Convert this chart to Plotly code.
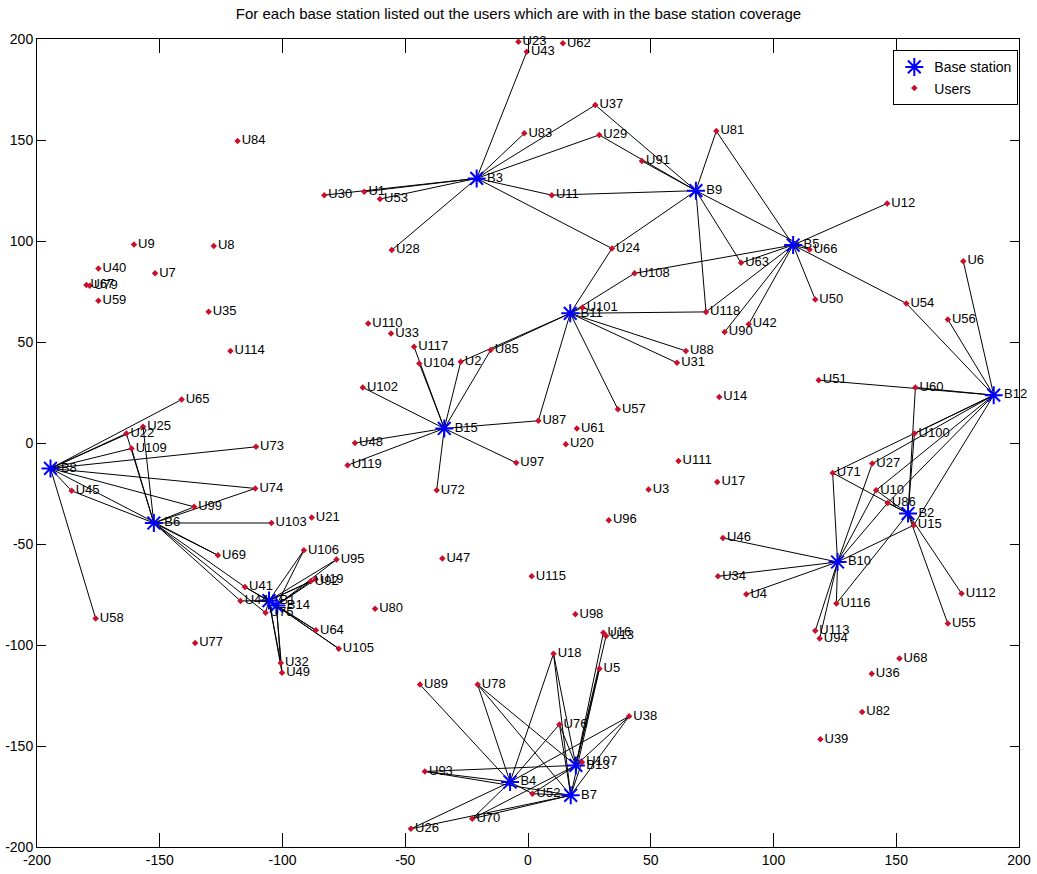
import plotly.graph_objects as go

# ---- Users ----
user_names = ["U%d" % i for i in range(1, 120)]
user_x = [-66.7, -27.4, 49.1, 88.9, 29.1, 177.3, -151.9, -128.0, -160.5, 141.8,
          9.7, 146.3, 31.8, 77.9, 157.1, 30.7, 77.1, 10.4, -86.5, 15.4,
          -88.1, -163.6, -3.9, 34.2, -156.8, -47.7, 140.2, -55.5, 29.0, -83.0,
          60.7, -100.7, -55.8, 77.4, -130.1, 140.0, 27.4, 41.2, 119.1, -175.0,
          -115.3, 89.9, -0.5, -117.1, -185.9, 79.4, -34.9, -70.5, -100.2, 117.0,
          118.4, 1.8, -60.3, 154.1, 171.0, 171.0, 36.6, -176.1, -175.0, 157.8,
          19.9, 14.2, 86.8, -86.4, -141.1, 114.7, -179.9, 151.3, -126.3, -22.7,
          124.1, -37.2, -110.8, -111.1, -106.9, 12.8, -135.6, -20.5, -178.5, -62.3,
          76.7, 136.1, -1.5, -118.3, -15.2, 146.5, 4.2, 64.3, -44.0, 80.1,
          46.4, -88.5, -42.0, 118.8, -78.0, 32.9, -4.8, 19.3, -136.0, 157.4,
          22.2, -67.3, -104.5, -44.3, -77.1, -91.3, 22.0, 43.4, -161.5, -65.1,
          61.3, 176.6, 117.0, -121.2, 1.5, 125.6, -46.4, 72.5, -73.5]
user_y = [124.4, 40.2, -23.0, -74.9, -111.7, 90.0, 84.0, 97.5, 98.3, -23.4,
          122.7, 118.6, -95.5, 22.8, -40.7, -93.9, -19.3, -104.3, -67.5, -0.6,
          -36.9, 4.7, 198.7, 96.3, 8.0, -191.0, -10.2, 95.5, 152.5, 122.7,
          39.7, -108.9, 54.2, -66.0, 65.0, -114.2, 167.3, -135.3, -146.7, 86.4,
          -71.3, 58.8, 193.7, -78.2, -23.7, -47.0, -57.2, 0.0, -113.7, 71.1,
          31.1, -173.6, 120.8, 69.1, -89.4, 61.2, 16.7, -86.9, 70.4, 27.5,
          7.2, 197.9, 89.2, -92.7, 21.5, 95.8, 78.2, -106.7, -55.6, -186.0,
          -14.8, -23.4, -1.9, -22.5, -84.0, -139.3, -99.0, -119.6, 77.8, -82.0,
          154.4, -133.2, 153.3, 149.5, 46.0, -29.7, 11.0, 45.6, -119.6, 55.0,
          139.6, -68.5, -162.6, -96.8, -57.7, -38.2, -9.8, -84.8, -31.6, 4.7,
          67.1, 27.5, -39.6, 39.4, -101.8, -53.1, -158.0, 84.0, -2.7, 59.2,
          -8.9, -74.5, -93.0, 45.5, -66.0, -79.5, 47.6, 64.9, -11.0]

# ---- Base stations ----
bs_names = ["B%d" % i for i in range(1, 16)]
bs_x = [-105.5, 154.8, -20.9, -7.3, 108.0, -152.4, 17.4, -194.5, 68.4, 126.1,
        17.2, 189.7, 19.5, -102.5, -34.1]
bs_y = [-78.0, -34.9, 131.0, -167.8, 98.0, -39.6, -174.4, -12.6, 124.9, -58.9,
        64.2, 23.7, -159.6, -80.5, 7.2]

# ---- Users within each base station's coverage ----
coverage = {
    "B1": ["U41", "U44", "U75", "U106", "U95", "U92", "U19", "U64", "U105", "U32", "U49"],
    "B2": ["U60", "U100", "U71", "U10", "U86", "U15", "U112", "U55", "U116"],
    "B3": ["U43", "U83", "U37", "U29", "U11", "U24", "U30", "U1", "U53", "U28"],
    "B4": ["U89", "U78", "U93", "U26", "U70", "U18", "U76", "U52", "U38"],
    "B5": ["U81", "U66", "U12", "U54", "U50", "U63", "U108", "U118", "U90", "U42"],
    "B6": ["U22", "U25", "U109", "U99", "U74", "U103", "U69", "U41", "U44", "U75", "U45"],
    "B7": ["U78", "U26", "U70", "U18", "U76", "U52", "U38", "U5", "U107", "U93"],
    "B8": ["U65", "U25", "U22", "U109", "U73", "U74", "U99", "U45", "U69", "U58"],
    "B9": ["U37", "U29", "U91", "U81", "U11", "U24", "U118", "U63", "U66"],
    "B10": ["U46", "U34", "U4", "U71", "U27", "U10", "U86", "U15", "U116", "U113", "U94"],
    "B11": ["U101", "U108", "U24", "U118", "U88", "U31", "U57", "U87", "U85", "U2"],
    "B12": ["U6", "U56", "U54", "U60", "U51", "U100", "U27", "U10", "U86", "U15", "U71"],
    "B13": ["U78", "U93", "U70", "U18", "U76", "U38", "U5", "U16", "U13", "U52", "U107"],
    "B14": ["U106", "U95", "U92", "U19", "U64", "U105", "U32", "U49", "U41"],
    "B15": ["U117", "U104", "U2", "U85", "U102", "U48", "U119", "U97", "U72", "U87"],
}

title_text = "For each base station listed out the users which are with in the base station coverage"
x_ticks = [-200, -150, -100, -50, 0, 50, 100, 150, 200]
y_ticks = [-200, -150, -100, -50, 0, 50, 100, 150, 200]
x_tick_labels = ["-200", "-150", "-100", "-50", "0", "50", "100", "150", "200"]
y_tick_labels = ["-200", "-150", "-100", "-50", "0", "50", "100", "150", "200"]

FONT = "Liberation Sans, Arial, sans-serif"

upos = {n: (x, y) for n, x, y in zip(user_names, user_x, user_y)}
bpos = {n: (x, y) for n, x, y in zip(bs_names, bs_x, bs_y)}

lx, ly = [], []
for b, users in coverage.items():
    bx, by = bpos[b]
    for u in users:
        ux, uy = upos[u]
        lx += [bx, ux, None]
        ly += [by, uy, None]

fig = go.Figure()
fig.add_trace(go.Scatter(x=lx, y=ly, mode="lines", line=dict(color="black", width=1),
                         showlegend=False, hoverinfo="skip"))
fig.add_trace(go.Scatter(x=bs_x, y=bs_y, mode="markers+text", text=bs_names,
                         textposition="middle right", name="Base station", cliponaxis=False,
                         textfont=dict(family=FONT, size=13, color="black"),
                         marker=dict(symbol="asterisk-open", size=15, color="blue",
                                     line=dict(width=2, color="blue"))))
fig.add_trace(go.Scatter(x=user_x, y=user_y, mode="markers+text", text=user_names,
                         textposition="middle right", name="Users", cliponaxis=False,
                         textfont=dict(family=FONT, size=13, color="black"),
                         marker=dict(symbol="diamond", size=5, color="#c8102e")))

axis_common = dict(showgrid=False, zeroline=False, showline=True, linecolor="black",
                   linewidth=1, mirror="allticks", ticks="inside", tickcolor="black",
                   automargin=False,
                   tickfont=dict(family=FONT, size=14, color="black"))
fig.update_xaxes(range=[-200, 200], tickvals=x_ticks, ticktext=x_tick_labels,
                 ticklen=14, **axis_common)
fig.update_yaxes(range=[-200, 200], tickvals=y_ticks, ticktext=y_tick_labels,
                 ticklen=9, **axis_common)

fig.update_layout(
    width=1037, height=874,
    margin=dict(l=37, r=18, t=39, b=27),
    paper_bgcolor="white", plot_bgcolor="white",
    title=dict(text=title_text, x=0.5, xanchor="center", y=0.984, yanchor="middle",
               font=dict(family=FONT, size=15, color="black")),
    legend=dict(x=0.872, y=0.986, xanchor="left", yanchor="top",
                bgcolor="white", bordercolor="black", borderwidth=1,
                font=dict(family=FONT, size=14, color="black")),
    font=dict(family=FONT),
)

fig.write_html("out.html", config={"displayModeBar": False},
               post_script="document.body.style.margin='0';")
